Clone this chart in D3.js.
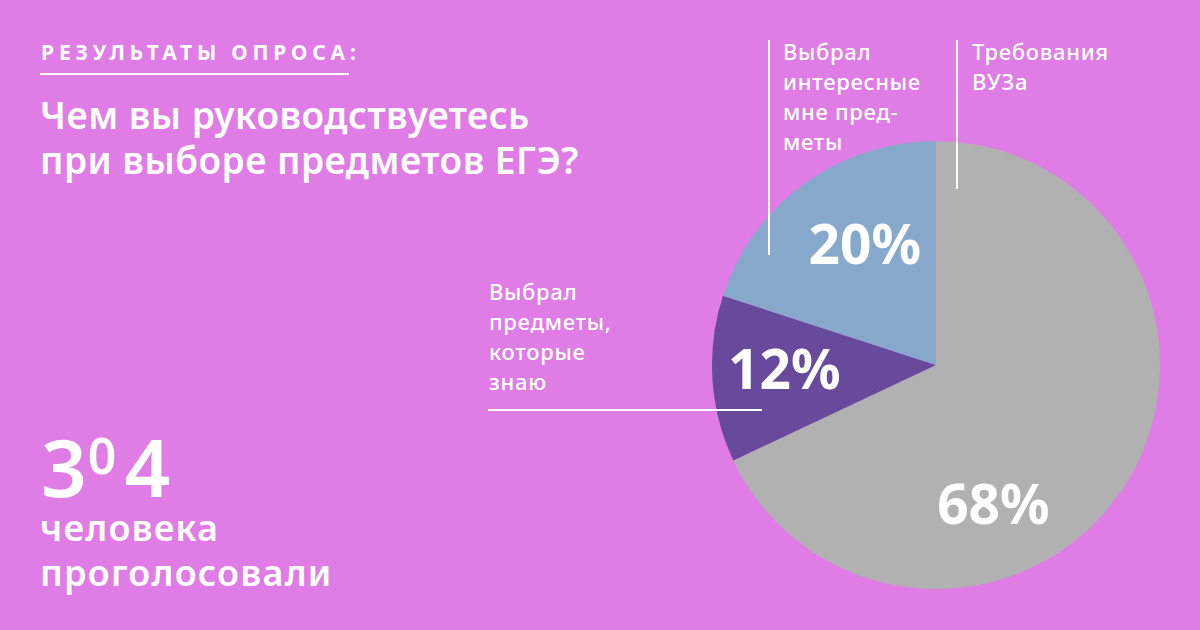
<!DOCTYPE html>
<html lang="ru">
<head>
<meta charset="utf-8">
<script src="https://cdn.jsdelivr.net/npm/d3@7"></script>
<style>
  html, body { margin: 0; padding: 0; background: #e07ce6; }
  svg { display: block; }
  text { font-family: "Noto Sans", "Open Sans", sans-serif; fill: #fff; }
</style>
</head>
<body>
<div id="chart"></div>
<script>
// survey results
const categories = ['Требования ВУЗа', 'Выбрал предметы, которые знаю', 'Выбрал интересные мне предметы'];
const shares = [68, 12, 20];
const sliceColors = ['#b1b1b1', '#674a9b', '#86a9cb'];
const calloutLines = [
  ['Требования', 'ВУЗа'],
  ['Выбрал', 'предметы,', 'которые', 'знаю'],
  ['Выбрал', 'интересные', 'мне пред-', 'меты']
];
const voters = 304;

const width = 1200;
const height = 630;
const cx = 936, cy = 365, radius = 224;

const svg = d3.select('#chart')
  .append('svg')
  .attr('width', width)
  .attr('height', height);

svg.append('rect')
  .attr('width', width)
  .attr('height', height)
  .attr('fill', '#e07ce6');

// header
svg.append('text')
  .attr('x', 41)
  .attr('y', 60)
  .attr('font-size', 21)
  .attr('font-weight', 700)
  .attr('letter-spacing', 4.8)
  .text('РЕЗУЛЬТАТЫ ОПРОСА:');

svg.append('line')
  .attr('x1', 40).attr('x2', 349)
  .attr('y1', 74).attr('y2', 74)
  .attr('stroke', '#fff')
  .attr('stroke-width', 2);

const title = svg.append('text')
  .attr('font-size', 37)
  .attr('font-weight', 600)
  .attr('letter-spacing', 0.5);
title.append('tspan').attr('x', 40).attr('y', 129).text('Чем вы руководствуетесь');
title.append('tspan').attr('x', 40).attr('y', 174).text('при выборе предметов ЕГЭ?');

// voters count
const count = svg.append('text')
  .attr('x', 41)
  .attr('y', 497)
  .attr('font-size', 80)
  .attr('font-weight', 600);
const digits = String(voters).split('');
count.append('tspan').text(digits[0]);
count.append('tspan').attr('font-size', 50).attr('dx', 1).attr('dy', -23).text(digits[1]);
count.append('tspan').attr('dx', 8).attr('dy', 23).text(digits[2]);

const votersText = svg.append('text')
  .attr('font-size', 36)
  .attr('font-weight', 600)
  .attr('letter-spacing', 1.2);
votersText.append('tspan').attr('x', 40).attr('y', 541).text('человека');
votersText.append('tspan').attr('x', 40).attr('y', 586).text('проголосовали');

// pie
const pie = d3.pie().sort(null).value(d => d)(shares);
const arc = d3.arc().innerRadius(0).outerRadius(radius);
const labelArc = d3.arc().innerRadius(145).outerRadius(145);
// nudges of the percentage labels from the mid-slice point
const labelNudge = [[-65, 60], [-7, -7], [14, -5]];

const g = svg.append('g').attr('transform', `translate(${cx},${cy})`);

g.selectAll('path')
  .data(pie)
  .enter()
  .append('path')
  .attr('d', arc)
  .attr('fill', (d, i) => sliceColors[i]);

g.selectAll('text.pct')
  .data(pie)
  .enter()
  .append('text')
  .attr('class', 'pct')
  .attr('x', (d, i) => labelArc.centroid(d)[0] + labelNudge[i][0])
  .attr('y', (d, i) => labelArc.centroid(d)[1] + labelNudge[i][1])
  .attr('text-anchor', 'middle')
  .attr('dominant-baseline', 'central')
  .attr('font-size', 55)
  .attr('font-weight', 700)
  .text(d => d.value + '%');

// callouts
const callouts = [
  { x: 972, y: 60, line: [957, 40, 957, 189] },
  { x: 489, y: 300, line: [488, 410, 762, 410] },
  { x: 783, y: 60, line: [769, 40, 769, 255] }
];

callouts.forEach((c, i) => {
  svg.append('line')
    .attr('x1', c.line[0]).attr('y1', c.line[1])
    .attr('x2', c.line[2]).attr('y2', c.line[3])
    .attr('stroke', '#fff')
    .attr('stroke-width', 2);

  const t = svg.append('text')
    .attr('font-size', 22)
    .attr('font-weight', 500)
    .attr('letter-spacing', 0.7)
    .attr('aria-label', categories[i]);
  calloutLines[i].forEach((s, k) => {
    t.append('tspan').attr('x', c.x).attr('y', c.y + k * 30).text(s);
  });
});
</script>
</body>
</html>
